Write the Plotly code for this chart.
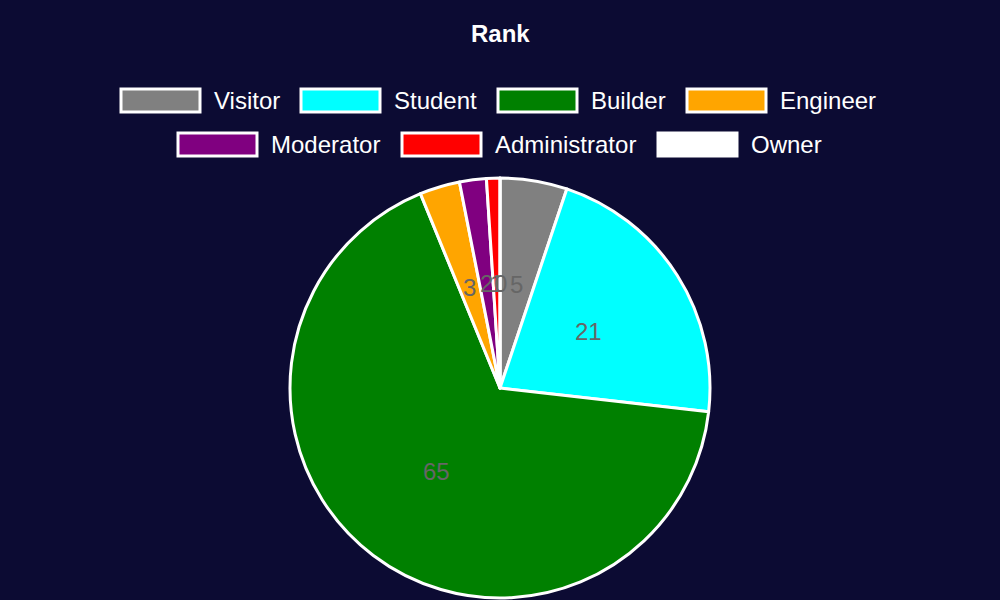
import math
import plotly.graph_objects as go

labels = ["Visitor", "Student", "Builder", "Engineer", "Moderator", "Administrator", "Owner"]
values = [5, 21, 65, 3, 2, 1, 0]
colors = ["#808080", "#00ffff", "#008000", "#ffa500", "#800080", "#ff0000", "#ffffff"]
title_text = "Rank"

W, H = 1000, 600
BG = "#0c0b33"
FONT = "Liberation Sans, Arial, sans-serif"

# pie geometry (pixels)
cx, cy, R = 500, 388, 210

def px(x):
    return x / W

def py(y):
    return 1 - y / H

fig = go.Figure()
fig.add_trace(go.Pie(
    labels=labels,
    values=values,
    marker=dict(colors=colors, line=dict(color="white", width=3)),
    sort=False,
    direction="clockwise",
    rotation=0,
    textinfo="none",
    hoverinfo="label+value",
    showlegend=False,
    domain=dict(x=[px(cx - R), px(cx + R)], y=[py(cy + R), py(cy - R)]),
))

annotations = []
# value labels at mid radius of each slice
total = sum(values)
cum = 0
for v in values:
    ang = (cum + v / 2) / total * 2 * math.pi
    x = cx + 0.5 * R * math.sin(ang)
    y = cy - 0.5 * R * math.cos(ang)
    annotations.append(dict(x=px(x), y=py(y), xref="paper", yref="paper",
                            text=str(v), showarrow=False,
                            font=dict(family=FONT, size=24, color="#666666"),
                            xanchor="center", yanchor="middle"))
    cum += v

# custom legend (layout positions)
legend_rows = [(0, 4, 100.5), (4, 7, 144.5)]
legend_box_x = [121, 301, 498, 687, 178, 402, 658]
box_w, box_h = 79, 23
shapes = []
for start, end, rowy in legend_rows:
    for i in range(start, end):
        x0 = legend_box_x[i]
        shapes.append(dict(type="rect", xref="paper", yref="paper",
                           x0=px(x0), x1=px(x0 + box_w),
                           y0=py(rowy + box_h / 2), y1=py(rowy - box_h / 2),
                           fillcolor=colors[i], line=dict(color="white", width=3)))
        annotations.append(dict(x=px(x0 + box_w + 12), y=py(rowy), xref="paper", yref="paper",
                                text=labels[i], showarrow=False,
                                font=dict(family=FONT, size=24, color="white"),
                                xanchor="left", yanchor="middle"))

annotations.append(dict(x=0.5, y=py(34), xref="paper", yref="paper", text="<b>" + title_text + "</b>",
                        showarrow=False, font=dict(family=FONT, size=24, color="white"),
                        xanchor="center", yanchor="middle"))

fig.update_layout(
    width=W, height=H,
    margin=dict(l=0, r=0, t=0, b=0),
    paper_bgcolor=BG, plot_bgcolor=BG,
    shapes=shapes, annotations=annotations,
)

fig.write_html("out.html", config={"displayModeBar": False},
               post_script="document.body.style.margin='0';document.body.style.background='%s';" % BG)
